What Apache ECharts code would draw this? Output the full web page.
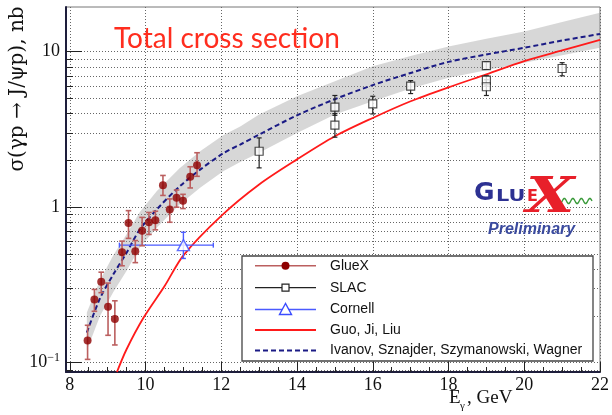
<!DOCTYPE html>
<html><head><meta charset="utf-8">
<script src="https://cdn.jsdelivr.net/npm/echarts@6/dist/echarts.min.js"></script>
<style>html,body{margin:0;padding:0;background:#fff}#c{width:612px;height:415px}</style>
</head><body><div id="c"></div>
<script>
// ---- axis ticks ----
const xTicks = [8, 10, 12, 14, 16, 18, 20, 22];
const xMinor = [8, 8.5, 9, 9.5, 10, 10.5, 11, 11.5, 12, 12.5, 13, 13.5, 14, 14.5, 15, 15.5, 16, 16.5, 17, 17.5, 18, 18.5, 19, 19.5, 20, 20.5, 21, 21.5, 22];
const yTicks = [0.1, 1, 10];
const yMinor = [0.09, 0.1, 0.2, 0.3, 0.4, 0.5, 0.6, 0.7, 0.8, 0.9, 1, 2, 3, 4, 5, 6, 7, 8, 9, 10];

// ---- GlueX ----
const glueE  = [8.47, 8.65, 8.83, 9.01, 9.19, 9.38, 9.55, 9.73, 9.91, 10.09, 10.26, 10.46, 10.64, 10.82, 10.99, 11.18, 11.36];
const glueS  = [0.139, 0.255, 0.332, 0.229, 0.191, 0.514, 0.792, 0.521, 0.705, 0.80, 0.823, 1.385, 0.966, 1.15, 1.10, 1.57, 1.86];
const glueLo = [0.105, 0.214, 0.282, 0.150, 0.130, 0.420, 0.630, 0.440, 0.565, 0.668, 0.715, 1.19, 0.80, 1.00, 0.98, 1.33, 1.58];
const glueHi = [0.174, 0.296, 0.382, 0.325, 0.250, 0.605, 0.950, 0.610, 0.860, 0.925, 0.942, 1.60, 1.13, 1.29, 1.21, 1.82, 2.24];

// ---- SLAC ----
const slacE  = [13, 15, 15, 16, 17, 19, 19, 19, 21];
const slacS  = [2.29, 4.40, 3.37, 4.62, 6.0, 8.15, 6.56, 5.95, 7.80];
const slacLo = [1.79, 3.90, 2.82, 3.98, 5.38, 7.70, 6.00, 5.23, 7.00];
const slacHi = [2.79, 5.23, 4.00, 5.17, 6.52, 8.60, 7.00, 6.60, 8.50];

// ---- Cornell ----
const cornE = [11.0], cornS = [0.57];
const cornElo = [9.31], cornEhi = [11.79];
const cornLo = [0.468], cornHi = [0.69];

// ---- Guo, Ji, Liu ----
const guoE = [9.245, 9.5, 9.95, 10.5, 11.0, 12.0, 13.0, 14.0, 15.0, 16.0, 17.0, 18.0, 19.0, 20.0, 21.0, 22.0];
const guoS = [0.0871, 0.122, 0.195, 0.31, 0.49, 0.88, 1.40, 2.03, 2.86, 3.75, 4.8, 5.9, 7.15, 8.7, 10.2, 11.9];

// ---- Ivanov, Sznajder, Szymanowski, Wagner (with band) ----
const ivE  = [8.45, 8.8, 9.15, 9.5, 9.85, 10.3, 10.9, 11.45, 12.05, 12.5, 13, 14, 15, 16, 17, 18, 19, 20, 21, 22];
const ivS  = [0.156, 0.26, 0.37, 0.51, 0.72, 0.97, 1.36, 1.75, 2.22, 2.53, 2.93, 3.9, 4.95, 6.1, 7.3, 8.6, 9.6, 10.6, 11.8, 13.0];
const ivHi = [0.21, 0.34, 0.49, 0.67, 0.93, 1.27, 1.78, 2.3, 2.9, 3.3, 3.95, 5.17, 6.46, 8.07, 9.4, 10.8, 12.1, 13.5, 15.5, 17.8];
const ivLo = [0.12, 0.20, 0.285, 0.39, 0.55, 0.74, 1.04, 1.34, 1.7, 1.95, 2.24, 3.0, 3.95, 4.8, 5.8, 6.8, 7.6, 8.49, 9.5, 10.6];

const chart = echarts.init(document.getElementById('c'), null, {renderer: 'canvas'});

function vErr(color, cap, lw) {
  return function (params, api) {
    const x = api.value(0);
    const a = api.coord([x, api.value(1)]);
    const b = api.coord([x, api.value(2)]);
    const st = {stroke: color, lineWidth: lw};
    return {type: 'group', children: [
      {type: 'line', shape: {x1: a[0], y1: a[1], x2: b[0], y2: b[1]}, style: st},
      {type: 'line', shape: {x1: a[0] - cap, y1: a[1], x2: a[0] + cap, y2: a[1]}, style: st},
      {type: 'line', shape: {x1: b[0] - cap, y1: b[1], x2: b[0] + cap, y2: b[1]}, style: st}
    ]};
  };
}

function hvErr(color, cap, lw) {
  return function (params, api) {
    const x = api.value(0), y = api.value(1);
    const l = api.coord([api.value(2), y]);
    const r = api.coord([api.value(3), y]);
    const b = api.coord([x, api.value(4)]);
    const t = api.coord([x, api.value(5)]);
    const st = {stroke: color, lineWidth: lw};
    return {type: 'group', children: [
      {type: 'line', shape: {x1: l[0], y1: l[1], x2: r[0], y2: r[1]}, style: st},
      {type: 'line', shape: {x1: l[0], y1: l[1] - cap, x2: l[0], y2: l[1] + cap}, style: st},
      {type: 'line', shape: {x1: r[0], y1: r[1] - cap, x2: r[0], y2: r[1] + cap}, style: st},
      {type: 'line', shape: {x1: b[0], y1: b[1], x2: t[0], y2: t[1]}, style: st},
      {type: 'line', shape: {x1: b[0] - cap, y1: b[1], x2: b[0] + cap, y2: b[1]}, style: st},
      {type: 'line', shape: {x1: t[0] - cap, y1: t[1], x2: t[0] + cap, y2: t[1]}, style: st}
    ]};
  };
}

const serif = 'Liberation Serif, DejaVu Serif, serif';
const sans = 'Liberation Sans, Arial, sans-serif';

// wave decoration for logo
const wave = [];
for (let i = 0; i <= 40; i++) {
  const t = i / 40;
  wave.push([558 + t * 34, 201 + 2.6 * Math.sin(t * Math.PI * 8)]);
}

const LX1 = 255, LX2 = 316, LXM = 285.5, LT = 330;
const rows = [265.7, 287.7, 309.5, 330, 350.5];

const option = {
  animation: false,
  backgroundColor: '#fff',
  grid: {left: 66, top: 7, width: 534, height: 365, show: true, borderColor: '#777', borderWidth: 1,
         containLabel: false, outerBoundsMode: 'none'},
  xAxis: [
    {type: 'value', min: 7.9, max: 22, position: 'bottom',
     axisLine: {show: true, onZero: false, lineStyle: {color: '#1e1e3c', width: 2}},
     axisTick: {show: true, inside: true, length: 10, customValues: xTicks, lineStyle: {color: '#222', width: 1}},
     axisLabel: {show: true, customValues: xTicks, margin: 4, fontFamily: serif, fontSize: 18, color: '#111'},
     splitLine: {show: true, lineStyle: {color: '#666', type: [1, 2], width: 1}}},
    {type: 'value', min: 7.9, max: 22, position: 'bottom',
     axisLine: {show: false, onZero: false},
     axisTick: {show: true, inside: true, length: 5, customValues: xMinor, lineStyle: {color: '#222', width: 1}},
     axisLabel: {show: false},
     splitLine: {show: false}}
  ],
  yAxis: [
    {type: 'log', logBase: 10, min: 0.0871, max: 19.39, position: 'left',
     axisLine: {show: true, onZero: false, lineStyle: {color: '#1e1e3c', width: 2}},
     axisTick: {show: true, inside: true, length: 16, customValues: yTicks, lineStyle: {color: '#222', width: 1}},
     axisLabel: {show: true, customValues: yTicks, margin: 6, color: '#111',
       formatter: function (v) {
         if (Math.abs(v - 0.1) < 1e-9) return '{b|10}{s|\u22121}';
         if (Math.abs(v - 1) < 1e-9) return '{b|1}';
         return '{b|10}';
       },
       rich: {b: {fontFamily: serif, fontSize: 18, lineHeight: 22, color: '#111'},
              s: {fontFamily: serif, fontSize: 12, lineHeight: 12, verticalAlign: 'top', color: '#111'}}},
     splitLine: {show: false}},
    {type: 'log', logBase: 10, min: 0.0871, max: 19.39, position: 'left',
     axisLine: {show: false, onZero: false},
     axisTick: {show: true, inside: true, length: 7, customValues: yMinor, lineStyle: {color: '#222', width: 1}},
     axisLabel: {show: false},
     splitLine: {show: true, lineStyle: {color: '#666', type: [1, 2], width: 1}}}
  ],
  series: [
    {type: 'custom', name: 'band', xAxisIndex: 0, yAxisIndex: 0, z: 1,
     data: ivE.map((e, i) => [e, ivLo[i], ivHi[i]]),
     encode: {x: 0, y: [1, 2]},
     renderItem: function (params, api) {
       if (params.dataIndex !== 0) return null;
       const pts = [];
       for (let i = 0; i < ivE.length; i++) pts.push(api.coord([ivE[i], ivHi[i]]));
       for (let i = ivE.length - 1; i >= 0; i--) pts.push(api.coord([ivE[i], ivLo[i]]));
       return {type: 'polygon', shape: {points: pts}, style: {fill: 'rgba(150,150,150,0.38)', stroke: null}};
     }},
    {type: 'line', name: 'Guo, Ji, Liu', xAxisIndex: 0, yAxisIndex: 0, z: 3,
     data: guoE.map((e, i) => [e, guoS[i]]), smooth: 0.3, showSymbol: false, symbol: 'none',
     lineStyle: {color: '#ff1a1a', width: 1.8}},
    {type: 'line', name: 'Ivanov', xAxisIndex: 0, yAxisIndex: 0, z: 3,
     data: ivE.map((e, i) => [e, ivS[i]]), smooth: 0.3, showSymbol: false, symbol: 'none',
     lineStyle: {color: '#1b1b85', width: 2, type: [5, 3]}},
    {type: 'custom', name: 'slacErr', z: 4, data: slacE.map((e, i) => [e, slacLo[i], slacHi[i]]),
     encode: {x: 0, y: [1, 2]}, renderItem: vErr('#222', 2.5, 1.2)},
    {type: 'scatter', name: 'SLAC', z: 5, data: slacE.map((e, i) => [e, slacS[i]]),
     symbol: 'rect', symbolSize: 8, itemStyle: {color: '#fff', borderColor: '#222', borderWidth: 1.2}},
    {type: 'custom', name: 'cornErr', z: 4,
     data: cornE.map((e, i) => [e, cornS[i], cornElo[i], cornEhi[i], cornLo[i], cornHi[i]]),
     encode: {x: [0, 2, 3], y: [1, 4, 5]}, renderItem: hvErr('#4a5aff', 2.5, 1.4)},
    {type: 'scatter', name: 'Cornell', z: 5, data: cornE.map((e, i) => [e, cornS[i]]),
     symbol: 'triangle', symbolSize: [12, 11], itemStyle: {color: '#fff', borderColor: '#3a4cff', borderWidth: 1.4}},
    {type: 'custom', name: 'glueErr', z: 4, data: glueE.map((e, i) => [e, glueLo[i], glueHi[i]]),
     encode: {x: 0, y: [1, 2]}, renderItem: vErr('#bb5f5f', 2.8, 1.6)},
    {type: 'scatter', name: 'GlueX', z: 6, data: glueE.map((e, i) => [e, glueS[i]]),
     symbol: 'circle', symbolSize: 8, itemStyle: {color: '#8e0000'}}
  ],
  graphic: [
    // title
    {type: 'text', x: 114, y: 39, z: 10, style: {text: 'Total cross section', fill: '#ff2d1e',
      font: '28px Lato, "Open Sans", sans-serif', align: 'left', verticalAlign: 'middle'}},
    // y title
    {type: 'text', x: 18, y: 89, rotation: Math.PI / 2, z: 10, style: {text: '\u03c3(\u03b3p \u2192 J/\u03c8p), nb', fill: '#111',
      font: '20px "DejaVu Serif", serif', align: 'center', verticalAlign: 'middle'}},
    // x title
    {type: 'text', x: 449, y: 408, z: 10, style: {text: 'E', fill: '#111', font: '19px ' + serif, align: 'left', verticalAlign: 'bottom'}},
    {type: 'text', x: 460, y: 412, z: 10, style: {text: '\u03b3', fill: '#111', font: '11px ' + serif, align: 'left', verticalAlign: 'bottom'}},
    {type: 'text', x: 467, y: 408, z: 10, style: {text: ', GeV', fill: '#111', font: '19px ' + serif, align: 'left', verticalAlign: 'bottom'}},
    // legend
    {type: 'rect', z: 20, shape: {x: 242, y: 256, width: 351, height: 105},
     style: {fill: '#fff', stroke: '#444', lineWidth: 1.3}},
    {type: 'line', z: 21, shape: {x1: LX1, y1: rows[0], x2: LX2, y2: rows[0]}, style: {stroke: '#bb5f5f', lineWidth: 1.6}},
    {type: 'circle', z: 22, shape: {cx: LXM, cy: rows[0], r: 4}, style: {fill: '#8e0000'}},
    {type: 'line', z: 21, shape: {x1: LX1, y1: rows[1], x2: LX2, y2: rows[1]}, style: {stroke: '#222', lineWidth: 1.2}},
    {type: 'rect', z: 22, shape: {x: LXM - 3.5, y: rows[1] - 3.5, width: 7, height: 7}, style: {fill: '#fff', stroke: '#222', lineWidth: 1.2}},
    {type: 'line', z: 21, shape: {x1: LX1, y1: rows[2], x2: LX2, y2: rows[2]}, style: {stroke: '#4a5aff', lineWidth: 1.4}},
    {type: 'polygon', z: 22, shape: {points: [[LXM, rows[2] - 6], [LXM - 6, rows[2] + 5], [LXM + 6, rows[2] + 5]]},
     style: {fill: '#fff', stroke: '#3a4cff', lineWidth: 1.4}},
    {type: 'line', z: 21, shape: {x1: LX1, y1: rows[3], x2: LX2, y2: rows[3]}, style: {stroke: '#ff1a1a', lineWidth: 1.8}},
    {type: 'line', z: 21, shape: {x1: LX1, y1: rows[4], x2: LX2, y2: rows[4]}, style: {stroke: '#1b1b85', lineWidth: 2, lineDash: [5, 3]}},
    {type: 'text', z: 22, x: LT, y: rows[0], style: {text: 'GlueX', fill: '#111', font: '14px ' + sans, verticalAlign: 'middle'}},
    {type: 'text', z: 22, x: LT, y: rows[1], style: {text: 'SLAC', fill: '#111', font: '14px ' + sans, verticalAlign: 'middle'}},
    {type: 'text', z: 22, x: LT, y: rows[2], style: {text: 'Cornell', fill: '#111', font: '14px ' + sans, verticalAlign: 'middle'}},
    {type: 'text', z: 22, x: LT, y: rows[3], style: {text: 'Guo, Ji, Liu', fill: '#111', font: '14px ' + sans, verticalAlign: 'middle'}},
    {type: 'text', z: 22, x: LT, y: rows[4], style: {text: 'Ivanov, Sznajder, Szymanowski, Wagner', fill: '#111', font: '14px ' + sans, verticalAlign: 'middle'}},
    // GlueX logo
    {type: 'text', z: 15, x: 474, y: 206, style: {text: 'G', fill: '#2d3192', font: 'bold 25px "DejaVu Sans", sans-serif', verticalAlign: 'bottom'}},
    {type: 'text', z: 15, x: 496, y: 205, scaleX: 1.3, style: {text: 'LU', fill: '#2d3192', font: 'bold 16px "DejaVu Sans", sans-serif', verticalAlign: 'bottom'}},
    {type: 'text', z: 15, x: 527, y: 205, style: {text: 'E', fill: '#e8202a', font: 'bold 16px "DejaVu Sans", sans-serif', verticalAlign: 'bottom'}},
    {type: 'text', z: 16, x: 526, y: 224, scaleX: 1.3, style: {text: 'X', fill: '#e8202a', font: 'italic bold 48px "DejaVu Serif", serif', verticalAlign: 'bottom'}},
    {type: 'polyline', z: 15, shape: {points: wave}, style: {stroke: '#3a9a3a', lineWidth: 1.4, fill: null}},
    {type: 'text', z: 15, x: 488, y: 230, style: {text: 'Preliminary', fill: '#3a4a9e', font: 'italic bold 16px "Liberation Sans", sans-serif', verticalAlign: 'middle'}}
  ]
};
chart.setOption(option);
</script>
</body></html>
